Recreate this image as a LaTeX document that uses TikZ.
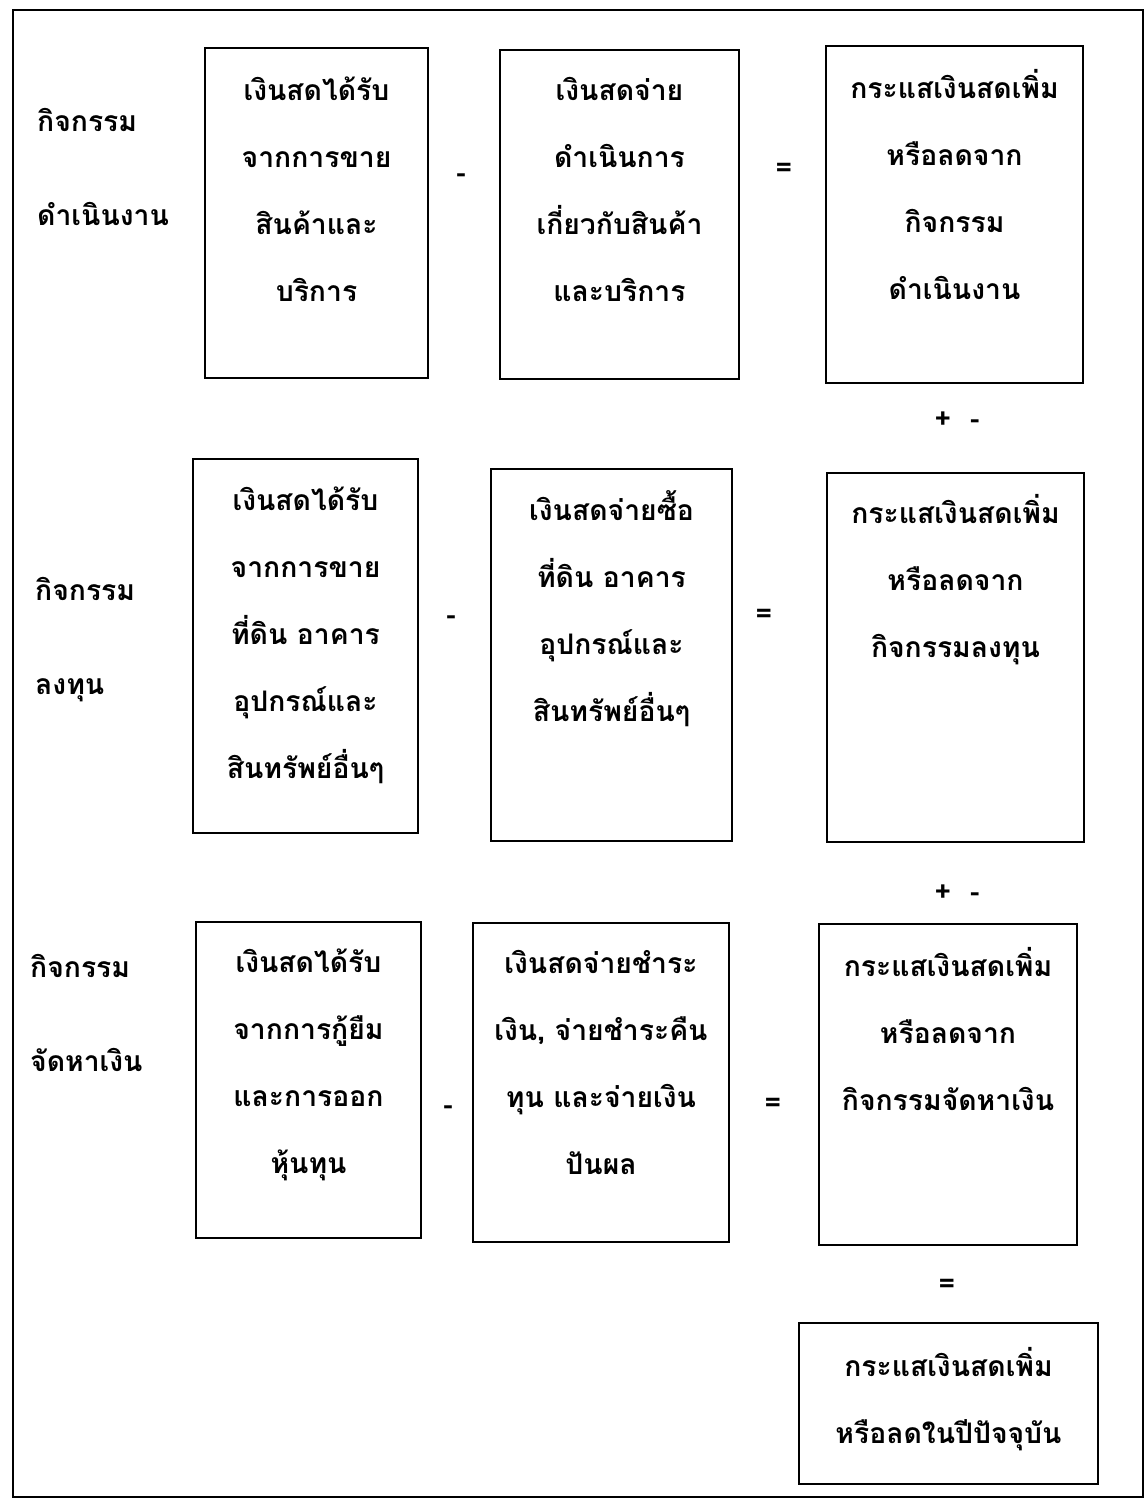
\documentclass[tikz,border=0pt]{standalone}
\usepackage{fontspec}
\newfontfamily\thaifont[Script=Thai]{Loma}
\begin{document}
\begin{tikzpicture}[x=1pt,y=-1pt,
  bx/.style={draw,line width=2pt,inner sep=0pt},
  txt/.style={font=\thaifont\bfseries\fontsize{28.3}{67}\selectfont,align=center,inner sep=0pt,anchor=north},
  lbl/.style={font=\thaifont\bfseries\fontsize{28.3}{94}\selectfont,align=left,inner sep=0pt,anchor=north west},
  op/.style={font=\thaifont\bfseries\fontsize{28.3}{30}\selectfont,inner sep=0pt}]
\useasboundingbox (0,0) rectangle (1147,1499);
\node[draw,line width=2pt,inner sep=0pt,minimum width=1130pt,minimum height=1487pt] (frame) at (577.5,753.5) {};
% row 1
\node[bx,minimum width=223pt,minimum height=330pt] (b11) at (316.5,213) {};
\node[bx,minimum width=239pt,minimum height=329pt] (b12) at (619.5,214.5) {};
\node[bx,minimum width=257pt,minimum height=337pt] (b13) at (954.5,214.5) {};
% row 2
\node[bx,minimum width=225pt,minimum height=374pt] (b21) at (305.5,646) {};
\node[bx,minimum width=241pt,minimum height=372pt] (b22) at (611.5,655) {};
\node[bx,minimum width=257pt,minimum height=369pt] (b23) at (955.5,657.5) {};
% row 3
\node[bx,minimum width=225pt,minimum height=316pt] (b31) at (308.5,1080) {};
\node[bx,minimum width=256pt,minimum height=319pt] (b32) at (601,1082.5) {};
\node[bx,minimum width=258pt,minimum height=321pt] (b33) at (948,1084.5) {};
% final
\node[bx,minimum width=299pt,minimum height=161pt] (bf) at (948.5,1403.5) {};
% texts
\newcommand\fs{\rule{0pt}{30pt}}
\node[txt] (t11) at ([yshift=-23pt]b11.north) {\fs เงินสดได้รับ\\จากการขาย\\สินค้าและ\\บริการ};
\node[txt] (t12) at ([yshift=-21pt]b12.north) {\fs เงินสดจ่าย\\ดำเนินการ\\เกี่ยวกับสินค้า\\และบริการ};
\node[txt] (t13) at ([yshift=-23pt]b13.north) {\fs กระแสเงินสดเพิ่ม\\หรือลดจาก\\กิจกรรม\\ดำเนินงาน};
\node[txt] (t21) at ([yshift=-22pt]b21.north) {\fs เงินสดได้รับ\\จากการขาย\\ที่ดิน อาคาร\\อุปกรณ์และ\\สินทรัพย์อื่นๆ};
\node[txt] (t22) at ([yshift=-22pt]b22.north) {\fs เงินสดจ่ายซื้อ\\ที่ดิน อาคาร\\อุปกรณ์และ\\สินทรัพย์อื่นๆ};
\node[txt] (t23) at ([yshift=-21pt]b23.north) {\fs กระแสเงินสดเพิ่ม\\หรือลดจาก\\กิจกรรมลงทุน};
\node[txt] (t31) at ([yshift=-21pt]b31.north) {\fs เงินสดได้รับ\\จากการกู้ยืม\\และการออก\\หุ้นทุน};
\node[txt] (t32) at ([yshift=-21pt]b32.north) {\fs เงินสดจ่ายชำระ\\เงิน, จ่ายชำระคืน\\ทุน และจ่ายเงิน\\ปันผล};
\node[txt] (t33) at ([yshift=-23pt]b33.north) {\fs กระแสเงินสดเพิ่ม\\หรือลดจาก\\กิจกรรมจัดหาเงิน};
\node[txt] (tf) at ([yshift=-24pt]bf.north) {\fs กระแสเงินสดเพิ่ม\\หรือลดในปีปัจจุบัน};
% left labels
\node[lbl] (l1) at (37,101) {\fs กิจกรรม\\ดำเนินงาน};
\node[lbl] (l2) at (35,570) {\fs กิจกรรม\\ลงทุน};
\node[lbl] (l3) at (30,947) {\fs กิจกรรม\\จัดหาเงิน};
% operators
\node[op] (m1) at (461,178) {-};
\node[op] (e1) at (784,170) {=};
\node[op] (pm1) at (957,420) {+\ \ -};
\node[op] (m2) at (451,620) {-};
\node[op] (e2) at (764,616) {=};
\node[op] (pm2) at (957,893) {+\ \ -};
\node[op] (m3) at (448,1110) {-};
\node[op] (e3) at (773,1105) {=};
\node[op] (e4) at (947,1286) {=};
\end{tikzpicture}
\end{document}
